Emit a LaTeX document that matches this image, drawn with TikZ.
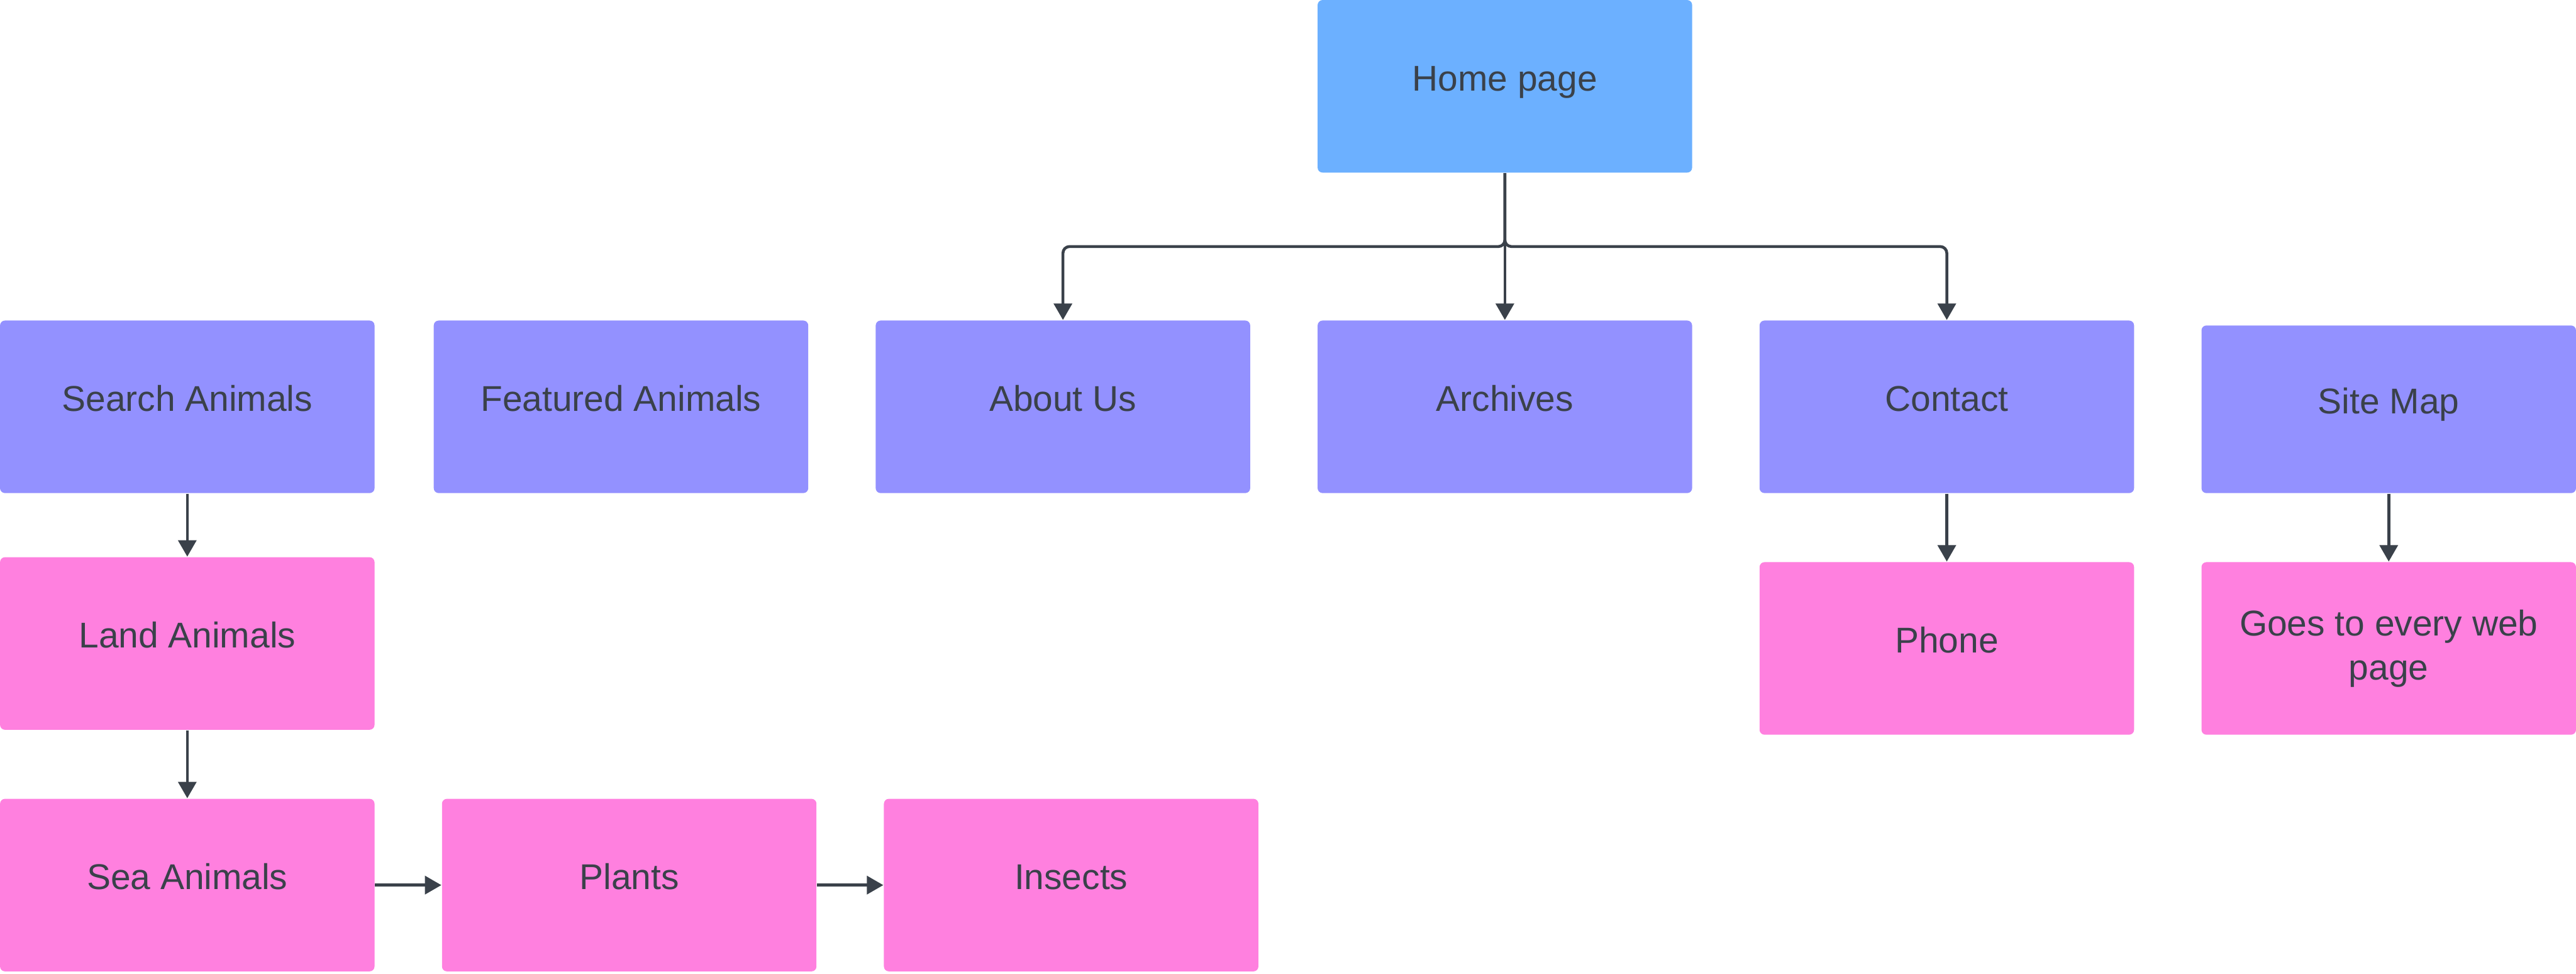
\documentclass[tikz,border=0pt]{standalone}
\usepackage{fontspec}
\setmainfont{Liberation Sans}
\usetikzlibrary{arrows.meta, positioning}
\definecolor{homeblue}{HTML}{6CB0FF}
\definecolor{secpurple}{HTML}{9391FF}
\definecolor{subpink}{HTML}{FF80DF}
\definecolor{inkgray}{HTML}{3A414A}

\begin{document}
\begin{tikzpicture}[x=0.02cm, y=-0.02cm, >={Triangle[width=0.22cm, length=0.2cm]},
    font=\fontsize{12.4}{15.3}\selectfont,
    pagebox/.style={fill=#1, text=inkgray, rounded corners=0.06cm, minimum width=4.56cm,
      minimum height=2.1cm, inner sep=0pt, align=center, text height=0.75em, text depth=0.45em},
    link/.style={->, draw=inkgray, line width=1pt}]
  \useasboundingbox (0, 0) rectangle (1568, 592.4);

  % top level
  \node[pagebox=homeblue] (home) at (916, 52.5) {Home page};

  % second row
  \node[pagebox=secpurple] (search) at (114, 247.5) {Search Animals};
  \node[pagebox=secpurple] (featured) at (378, 247.5) {Featured Animals};
  \node[pagebox=secpurple] (about) at (647, 247.5) {About Us};
  \node[pagebox=secpurple] (archives) at (916, 247.5) {Archives};
  \node[pagebox=secpurple] (contact) at (1185, 247.5) {Contact};
  \node[pagebox=secpurple, minimum height=2.04cm] (sitemap) at (1454, 249) {Site Map};

  % third row
  \node[pagebox=subpink] (land) at (114, 391.5) {Land Animals};
  \node[pagebox=subpink] (phone) at (1185, 394.5) {Phone};
  \node[pagebox=subpink, text height={}, text depth={}] (every) at (1454, 394.5) {Goes to every web\\page};

  % bottom row
  \node[pagebox=subpink] (sea) at (114, 538.5) {Sea Animals};
  \node[pagebox=subpink] (plants) at (383, 538.5) {Plants};
  \node[pagebox=subpink] (insects) at (652, 538.5) {Insects};

  \coordinate (bus) at (916, 150);
  \draw[link, rounded corners=0.08cm] (home.south) -- (bus) -| (about.north);
  \draw[link] (home.south) -- (archives.north);
  \draw[link, rounded corners=0.08cm] (home.south) -- (bus) -| (contact.north);

  \draw[link] (search) -- (land);
  \draw[link] (land) -- (sea);
  \draw[link] (sea) -- (plants);
  \draw[link] (plants) -- (insects);
  \draw[link] (contact) -- (phone);
  \draw[link] (sitemap) -- (every);
\end{tikzpicture}
\end{document}
